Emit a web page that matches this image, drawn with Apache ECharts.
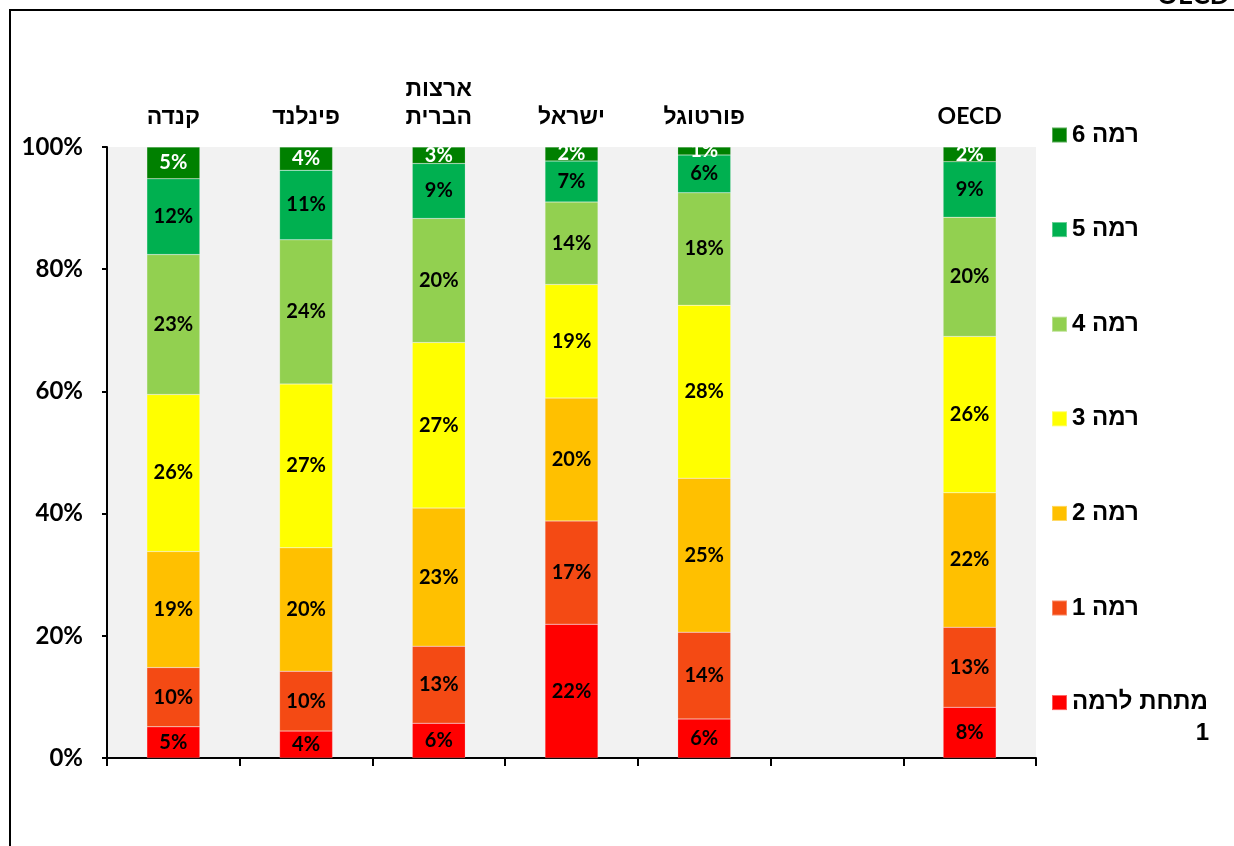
<!DOCTYPE html>
<html>
<head>
<meta charset="utf-8">
<script src="https://cdn.jsdelivr.net/npm/echarts@6/dist/echarts.min.js"></script>
<style>
html,body{margin:0;padding:0;background:#fff;}
#chart{width:1234px;height:846px;}
</style>
</head>
<body>
<div id="chart"></div>
<script>
const categories = ['קנדה', 'פינלנד', 'ארצות\nהברית', 'ישראל', 'פורטוגל', '', 'OECD'];
const seriesNames = ['מתחת לרמה 1', 'רמה 1', 'רמה 2', 'רמה 3', 'רמה 4', 'רמה 5', 'רמה 6'];
const belowLevel1 = [5.1, 4.4, 5.7, 21.9, 6.4, '-', 8.3];
const level1 = [9.7, 9.8, 12.6, 16.9, 14.2, '-', 13.1];
const level2 = [19.0, 20.2, 22.6, 20.1, 25.2, '-', 22.0];
const level3 = [25.7, 26.8, 27.1, 18.6, 28.3, '-', 25.6];
const level4 = [22.9, 23.6, 20.3, 13.5, 18.4, '-', 19.5];
const level5 = [12.4, 11.4, 9.0, 6.7, 6.2, '-', 9.1];
const level6 = [5.2, 3.8, 2.7, 2.3, 1.3, '-', 2.4];
const yTicks = [0, 20, 40, 60, 80, 100];

const seriesData = [belowLevel1, level1, level2, level3, level4, level5, level6];
const colors = ['#ff0000', '#f44a14', '#ffc000', '#ffff00', '#92d050', '#00b050', '#008000'];
const labelColors = ['#000', '#000', '#000', '#000', '#000', '#000', '#fff'];

const chart = echarts.init(document.getElementById('chart'));
const latin = 'Lato, "Liberation Sans", Arial, sans-serif';
const hebrew = '"Liberation Sans", Arial, sans-serif';

const series = seriesData.map((d, i) => ({
  name: seriesNames[i],
  type: 'bar',
  stack: 'total',
  data: d,
  barWidth: 53,
  itemStyle: { color: colors[i], borderColor: 'rgba(255,255,255,0.35)', borderWidth: 0.5 },
  label: {
    show: true,
    position: 'inside',
    formatter: p => Math.round(p.value) + '%',
    color: labelColors[i],
    fontFamily: latin,
    fontWeight: 'bold',
    fontSize: 20
  },
  emphasis: { disabled: true }
}));

chart.setOption({
  animation: false,
  backgroundColor: '#fff',
  grid: { left: 107, right: 198, top: 147, bottom: 88, show: true, backgroundColor: '#f2f2f2', borderWidth: 0 },
  legend: {
    orient: 'vertical',
    left: 1051,
    top: 123,
    padding: 0,
    itemWidth: 15,
    itemHeight: 15,
    itemGap: 70.6,
    icon: 'rect',
    data: seriesNames.slice().reverse(),
    formatter: name => name === 'מתחת לרמה 1' ? 'מתחת לרמה' : name,
    textStyle: {
      fontFamily: hebrew,
      fontWeight: 'bold',
      fontSize: 24,
      lineHeight: 24,
      color: '#000'
    }
  },
  xAxis: [
    {
      type: 'category',
      data: categories,
      position: 'bottom',
      axisLine: { show: true, lineStyle: { color: '#000', width: 2 } },
      axisTick: { show: true, length: 8, lineStyle: { color: '#000', width: 2 } },
      axisLabel: { show: false },
      splitLine: { show: false }
    },
    {
      type: 'category',
      data: categories,
      position: 'top',
      axisLine: { show: false },
      axisTick: { show: false },
      axisLabel: {
        show: true,
        interval: 0,
        margin: 16,
        color: '#000',
        fontFamily: latin,
        fontWeight: 'bold',
        fontSize: 23,
        lineHeight: 28
      },
      splitLine: { show: false }
    }
  ],
  yAxis: {
    type: 'value',
    min: 0,
    max: 100,
    interval: 20,
    axisLine: { show: true, lineStyle: { color: '#000', width: 2 } },
    axisTick: { show: true, length: 5, lineStyle: { color: '#000', width: 2 } },
    axisLabel: {
      formatter: v => yTicks.includes(v) ? v + '%' : '',
      color: '#000',
      fontFamily: latin,
      fontWeight: 'bold',
      fontSize: 24,
      margin: 24
    },
    splitLine: { show: false }
  },
  graphic: [
    { type: 'rect', shape: { x: 10, y: 10, width: 1400, height: 1000 }, style: { fill: 'none', stroke: '#000', lineWidth: 2 }, silent: true },
    { type: 'text', x: 1157, y: 9, style: { text: 'OECD', font: 'bold 26px ' + latin, fill: '#000', textAlign: 'left', textVerticalAlign: 'bottom' }, silent: true },
    { type: 'text', x: 1209, y: 733, style: { text: '1', font: 'bold 24px ' + hebrew, fill: '#000', textAlign: 'right', textVerticalAlign: 'middle' }, silent: true }
  ],
  series: series
});
</script>
</body>
</html>
